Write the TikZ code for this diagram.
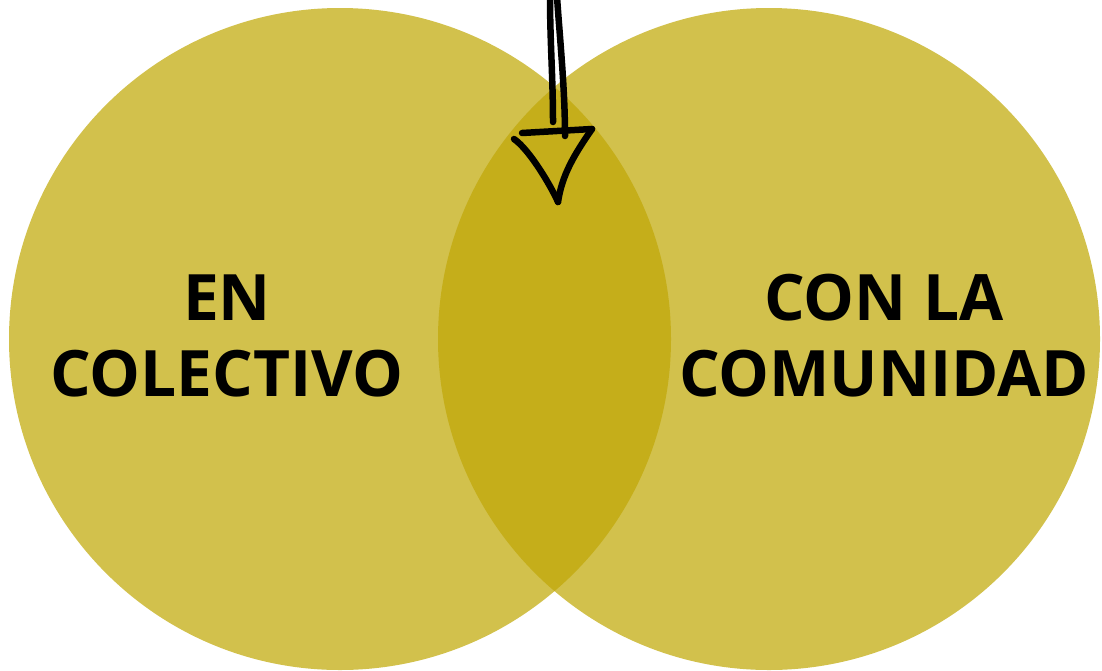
\documentclass[tikz,border=0pt]{standalone}
\usepackage{fontspec}
\setmainfont{Open Sans}
\definecolor{circ}{HTML}{D2C14C}
\definecolor{lens}{HTML}{C5AE1A}
\begin{document}
\begin{tikzpicture}[x=1pt,y=-1pt,
  lbl/.style={font=\fontsize{64}{76}\selectfont\bfseries, align=center, text=black, inner sep=0pt},
  ink/.style={draw=black, line width=6.5pt, line cap=round, line join=round}]
\useasboundingbox (0,0) rectangle (1102,670);
\fill[white] (0,0) rectangle (1102,670);
\fill[circ] (340,339) circle (331);
\fill[circ] (769,339) circle (331);
\begin{scope}
  \clip (340,339) circle (331);
  \fill[lens] (769,339) circle (331);
\end{scope}
\node[lbl] (a) at (227,336) {EN\\COLECTIVO};
\node[lbl] (b) at (884,336) {CON LA\\COMUNIDAD};
% hand-drawn arrow
\coordinate (s1) at (550,-3);
\coordinate (s2) at (553,122);
\coordinate (t1) at (557,-3);
\coordinate (t2) at (565,136);
\draw[ink] (s1) .. controls (550,40) and (553,80) .. (s2);
\draw[ink] (t1) .. controls (560,40) and (565,90) .. (t2);
\coordinate (h1) at (522,133);
\coordinate (h2) at (592,129);
\coordinate (h3) at (514,139);
\coordinate (tip) at (558,202);
\draw[ink] (h1) -- (h2);
\draw[ink] (h3) .. controls (530,150) and (552,188) .. (tip);
\draw[ink] (h2) .. controls (574,155) and (562,175) .. (tip);
\end{tikzpicture}
\end{document}
